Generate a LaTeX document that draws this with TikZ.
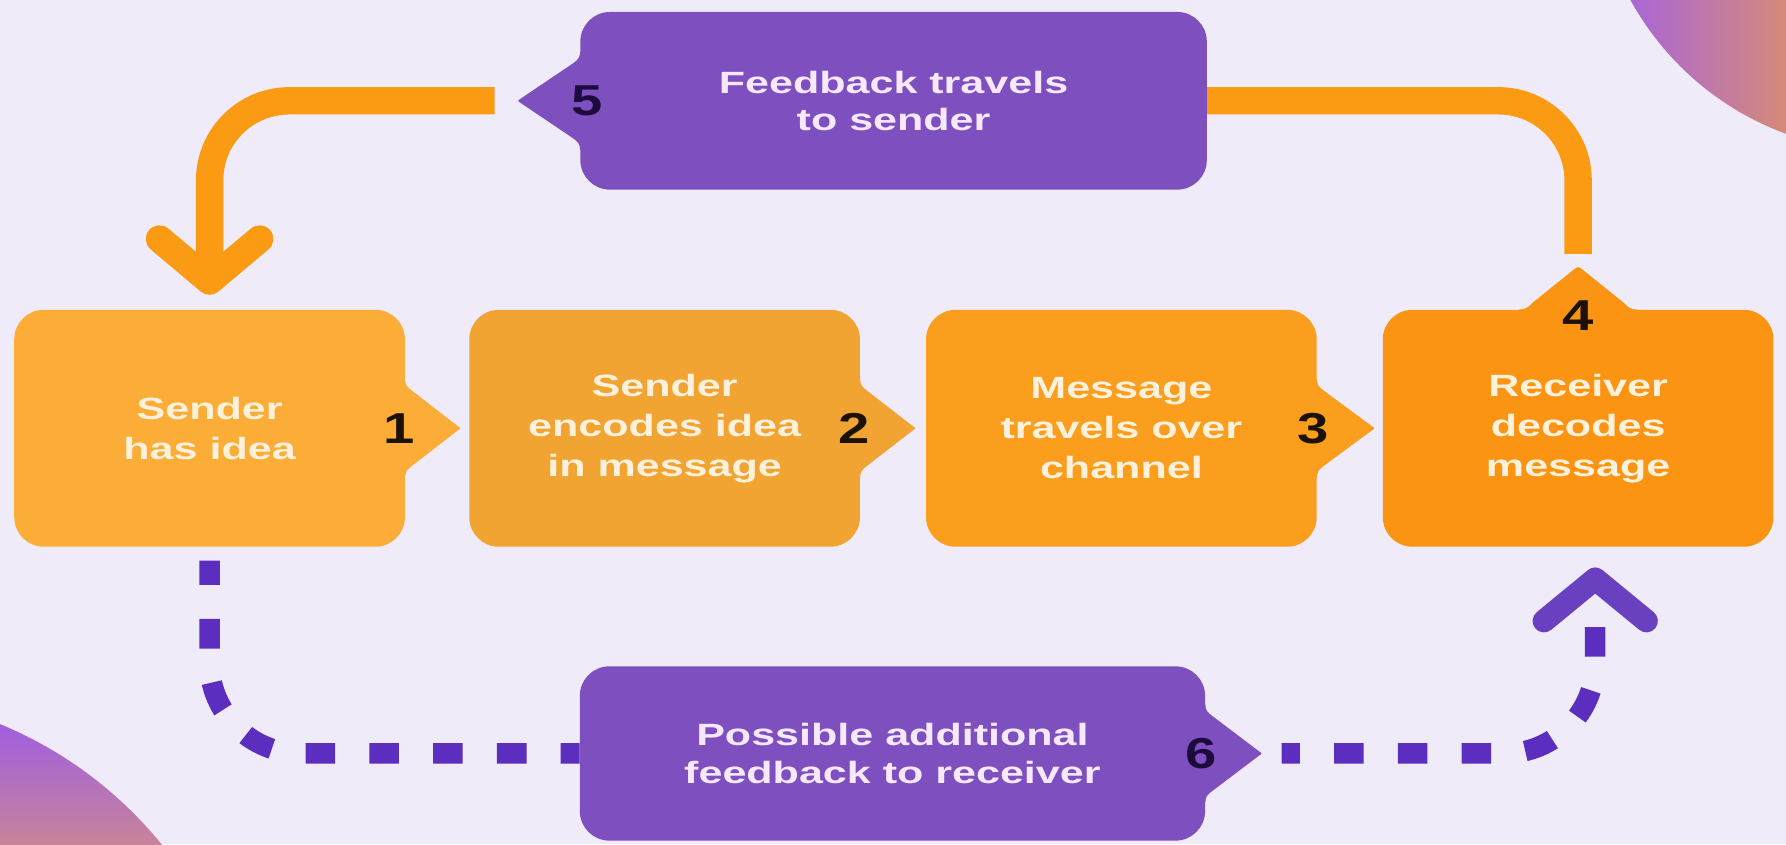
\documentclass[tikz,border=0pt]{standalone}
\usepackage{fontspec}
\setmainfont{Liberation Sans}[FakeStretch=1.4]
\newfontfamily\numfont{Liberation Sans}[FakeStretch=1.3]
\usetikzlibrary{calc}
\definecolor{bg}{HTML}{EFEBF8}
\definecolor{c1}{HTML}{FBAD37}
\definecolor{c2}{HTML}{F1A432}
\definecolor{c3}{HTML}{FB9E1E}
\definecolor{c4}{HTML}{FB9412}
\definecolor{pbox}{HTML}{7E4FBE}
\definecolor{oline}{HTML}{FB9A13}
\definecolor{pdashc}{HTML}{5B2EBF}
\definecolor{pchev}{HTML}{6840C0}
\definecolor{otext}{HTML}{FFF1DC}
\definecolor{ptext}{HTML}{F6E8FF}
\definecolor{onum}{HTML}{1C1203}
\definecolor{pnum}{HTML}{1D0B3D}
\definecolor{trA}{HTML}{A664DC}
\definecolor{trB}{HTML}{D48A7A}
\definecolor{blA}{HTML}{9A58EA}
\definecolor{blB}{HTML}{C8849A}
\begin{document}
\begin{tikzpicture}[x=1pt,y=-1pt,
  obox/.style={rectangle, rounded corners=26pt, minimum width=343pt, minimum height=208pt,
    align=center, text=otext, inner sep=0pt, font=\fontsize{27}{35}\selectfont\bfseries},
  pboxs/.style={rectangle, rounded corners=26pt, minimum width=550pt, minimum height=156pt,
    align=center, text=ptext, fill=pbox, inner sep=0pt, font=\fontsize{27}{33}\selectfont\bfseries},
  numlab/.style={font=\numfont\fontsize{38}{40}\selectfont\bfseries, inner sep=0pt},
  olinks/.style={draw=oline, line width=24pt, rounded corners=70pt},
  ochev/.style={draw=oline, line width=24pt, line cap=round, line join=round},
  pdash/.style={draw=pdashc, line width=18pt, rounded corners=80pt, dash pattern=on 26pt off 30pt},
  pchevs/.style={draw=pchev, line width=20pt, line cap=round, line join=round},
  pics/rptr/.style 2 args={code={
    \fill[#1] (-2,-43) -- (0,-43) .. controls (0,-38) and (2,-36) .. (6,-33) -- ({#2-3},-2)
      .. controls (#2,0) .. ({#2-3},2)
      -- (6,33) .. controls (2,36) and (0,38) .. (0,43) -- (-2,43) -- cycle;}},
  pics/lptr/.style 2 args={code={
    \fill[#1] (2,-43) -- (0,-43) .. controls (0,-38) and (-2,-36) .. (-6,-33) -- ({-#2+3},-2)
      .. controls (-#2,0) .. ({-#2+3},2)
      -- (-6,33) .. controls (-2,36) and (0,38) .. (0,43) -- (2,43) -- cycle;}},
  pics/uptr/.style 2 args={code={
    \fill[#1] (-52,2) -- (-52,0) .. controls (-46,0) and (-44,-2) .. (-40,-6) -- (-4,-#2+3)
      .. controls (0,-#2) .. (4,-#2+3)
      -- (40,-6) .. controls (44,-2) and (46,0) .. (52,0) -- (52,2) -- cycle;}}
]
\useasboundingbox (0,0) rectangle (1568,741);
\fill[bg] (0,0) rectangle (1568,741);

% decorative circles
\begin{scope}
  \clip (1656,-123) circle[radius=256pt];
  \shade[left color=trA, right color=trB] (1420,0) rectangle (1568,150);
\end{scope}
\begin{scope}
  \clip (-136,967) circle[radius=358pt];
  \shade[top color=blA, bottom color=blB] (0,620) rectangle (160,741);
\end{scope}

% boxes
\node[obox, fill=c1] (b1) at (184,376) {Sender\\has idea};
\node[obox, fill=c2] (b2) at (583.5,376) {Sender\\encodes idea\\in message};
\node[obox, fill=c3] (b3) at (984.5,376) {Message\\travels over\\channel};
\node[obox, fill=c4] (b4) at (1385.5,376) {Receiver\\decodes\\message};
\node[pboxs] (b5) at (784.5,88.5) {Feedback travels\\to sender};
\node[pboxs, minimum width=549pt, minimum height=153pt] (b6) at (783.5,661.5) {Possible additional\\feedback to receiver};

% pointers
\pic at (b1.east) {rptr={c1}{49}};
\pic at (b2.east) {rptr={c2}{49}};
\pic at (b3.east) {rptr={c3}{51}};
\pic at (b4.north) {uptr={c4}{38}};
\pic at (b5.west) {lptr={pbox}{55}};
\pic at (b6.east) {rptr={pbox}{50}};

% numbers
\node[numlab, text=onum] (n1) at ([xshift=-5pt]b1.east) {1};
\node[numlab, text=onum] (n2) at ([xshift=-5pt]b2.east) {2};
\node[numlab, text=onum] (n3) at ([xshift=-3pt]b3.east) {3};
\node[numlab, text=onum] (n4) at ([yshift=-5pt]b4.north) {4};
\node[numlab, text=pnum] (n5) at ([xshift=6pt]b5.west) {5};
\node[numlab, text=pnum] (n6) at ([xshift=-4pt]b6.east) {6};

% orange feedback connectors
\coordinate (o1) at ([xshift=-75pt]b5.west);
\coordinate (a1) at ([yshift=25pt]b1.north);
\draw[olinks] (o1) -| (a1);
\draw[ochev] ($(a1)+(-44,-37)$) -- (a1) -- ($(a1)+(44,-37)$);
\draw[olinks] (b5.east) -| ([yshift=49pt]b4.north);

% purple dotted connectors
\draw[pdash, dash phase=4.8pt] ([yshift=-12pt]b1.south) |- (b6.west);
\coordinate (a2) at ([xshift=15pt,yshift=-28pt]b4.south);
\draw[pdash, dash phase=10pt] ([xshift=67pt]b6.east) -| ([xshift=15pt,yshift=-60pt]b4.south);
\draw[pchevs] ($(a2)+(-45,37)$) -- (a2) -- ($(a2)+(45,37)$);
\end{tikzpicture}
\end{document}
